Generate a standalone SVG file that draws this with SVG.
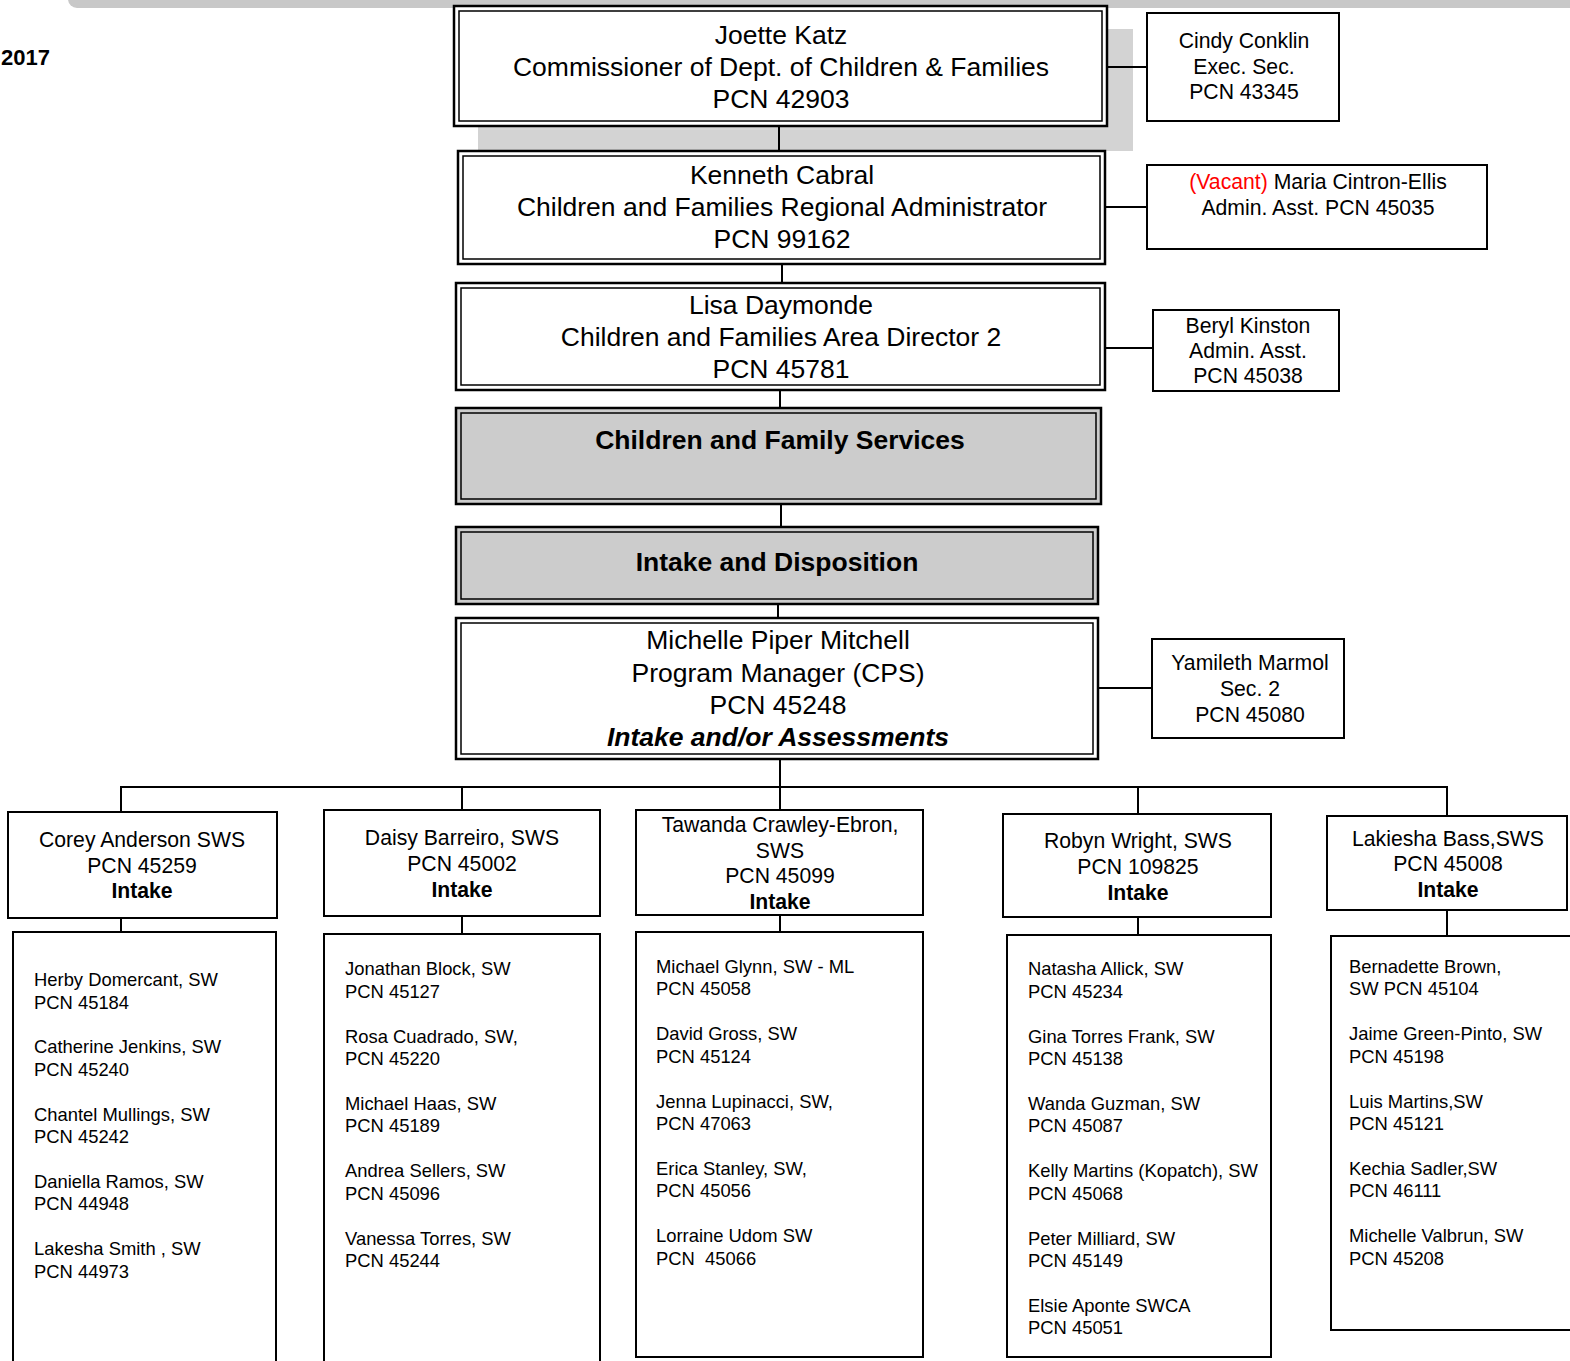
<svg xmlns="http://www.w3.org/2000/svg" width="1570" height="1361" viewBox="0 0 1570 1361">
<style>
.bg{fill:#fff}
.dblo{fill:#fff;stroke:#000;stroke-width:2.5}
.dbli{fill:none;stroke:#000;stroke-width:1.5}
.grayo{fill:#cccccc;stroke:#000;stroke-width:2.5}
.grayi{fill:none;stroke:#000;stroke-width:1.5}
.box{fill:#fff;stroke:#000;stroke-width:2}
.shadow{fill:#d3d3d3}
.conn line{stroke:#000;stroke-width:2}
text{font-family:"Liberation Sans",Arial,sans-serif;fill:#000}
.t26{font-size:26.5px;text-anchor:middle}
.t21{font-size:21.2px;text-anchor:middle}
.t18{font-size:18.4px}
.b{font-weight:bold}
.bi{font-weight:bold;font-style:italic}
</style>
<rect class="bg" x="0" y="0" width="1570" height="1361"/>
<rect x="68" y="-20" width="1530" height="28" rx="9" fill="#c8c8c8"/>
<text x="50" y="65" font-size="22" font-weight="bold" text-anchor="end">2017</text>
<rect class="shadow" x="478" y="29" width="655" height="122"/>

<g id="connectors" class="conn">
<line x1="779" y1="126" x2="779" y2="151"/>
<line x1="1107" y1="67" x2="1147" y2="67"/>
<line x1="782" y1="264" x2="782" y2="283"/>
<line x1="1105" y1="207" x2="1147" y2="207"/>
<line x1="780" y1="390" x2="780" y2="408"/>
<line x1="1105" y1="348" x2="1153" y2="348"/>
<line x1="781" y1="504" x2="781" y2="527"/>
<line x1="778" y1="604" x2="778" y2="618"/>
<line x1="1098" y1="688" x2="1152" y2="688"/>
<line x1="780" y1="759" x2="780" y2="787"/>
<line x1="120" y1="787" x2="1448" y2="787"/>
<line x1="121" y1="787" x2="121" y2="812"/>
<line x1="462" y1="787" x2="462" y2="810"/>
<line x1="780" y1="787" x2="780" y2="810"/>
<line x1="1138" y1="787" x2="1138" y2="814"/>
<line x1="1447" y1="787" x2="1447" y2="816"/>
<line x1="121" y1="918" x2="121" y2="932"/>
<line x1="462" y1="916" x2="462" y2="934"/>
<line x1="780" y1="915" x2="780" y2="932"/>
<line x1="1138" y1="917" x2="1138" y2="935"/>
<line x1="1447" y1="910" x2="1447" y2="936"/>
</g>

<g id="joette">
<rect class="dblo" x="454" y="6" width="653" height="120"/>
<rect class="dbli" x="459" y="11" width="643" height="110"/>
<text class="t26" x="781" y="44">Joette Katz</text>
<text class="t26" x="781" y="76">Commissioner of Dept. of Children &amp; Families</text>
<text class="t26" x="781" y="108">PCN 42903</text>
</g>
<g id="cindy">
<rect class="box" x="1147" y="13" width="192" height="108"/>
<text class="t21" x="1244" y="48">Cindy Conklin</text>
<text class="t21" x="1244" y="74">Exec. Sec.</text>
<text class="t21" x="1244" y="99">PCN 43345</text>
</g>
<g id="kenneth">
<rect class="dblo" x="458" y="151" width="647" height="113"/>
<rect class="dbli" x="463" y="156" width="637" height="103"/>
<text class="t26" x="782" y="184">Kenneth Cabral</text>
<text class="t26" x="782" y="216">Children and Families Regional Administrator</text>
<text class="t26" x="782" y="248">PCN 99162</text>
</g>
<g id="vacant">
<rect class="box" x="1147" y="165" width="340" height="84"/>
<text class="t21" x="1318" y="189"><tspan fill="#ff0000">(Vacant)</tspan> Maria Cintron-Ellis</text>
<text class="t21" x="1318" y="215">Admin. Asst. PCN 45035</text>
</g>
<g id="lisa">
<rect class="dblo" x="456" y="283" width="649" height="107"/>
<rect class="dbli" x="461" y="288" width="639" height="97"/>
<text class="t26" x="781" y="314">Lisa Daymonde</text>
<text class="t26" x="781" y="346">Children and Families Area Director 2</text>
<text class="t26" x="781" y="378">PCN 45781</text>
</g>
<g id="beryl">
<rect class="box" x="1153" y="310" width="186" height="81"/>
<text class="t21" x="1248" y="333">Beryl Kinston</text>
<text class="t21" x="1248" y="358">Admin. Asst.</text>
<text class="t21" x="1248" y="383">PCN 45038</text>
</g>
<g id="cfs">
<rect class="grayo" x="456" y="408" width="645" height="96"/>
<rect class="grayi" x="461" y="413" width="635" height="86"/>
<text class="t26 b" x="780" y="449">Children and Family Services</text>
</g>
<g id="intake-disposition">
<rect class="grayo" x="456" y="527" width="642" height="77"/>
<rect class="grayi" x="461" y="532" width="632" height="67"/>
<text class="t26 b" x="777" y="571">Intake and Disposition</text>
</g>
<g id="michelle">
<rect class="dblo" x="456" y="618" width="642" height="141"/>
<rect class="dbli" x="461" y="623" width="632" height="131"/>
<text class="t26" x="778" y="649">Michelle Piper Mitchell</text>
<text class="t26" x="778" y="682">Program Manager (CPS)</text>
<text class="t26" x="778" y="714">PCN 45248</text>
<text class="t26 bi" x="778" y="746">Intake and/or Assessments</text>
</g>
<g id="yamileth">
<rect class="box" x="1152" y="639" width="192" height="99"/>
<text class="t21" x="1250" y="670">Yamileth Marmol</text>
<text class="t21" x="1250" y="696">Sec. 2</text>
<text class="t21" x="1250" y="722">PCN 45080</text>
</g>

<g id="corey">
<rect class="box" x="8" y="812" width="269" height="106"/>
<text class="t21" x="142" y="847">Corey Anderson SWS</text>
<text class="t21" x="142" y="873">PCN 45259</text>
<text class="t21 b" x="142" y="898">Intake</text>
</g>
<g id="daisy">
<rect class="box" x="324" y="810" width="276" height="106"/>
<text class="t21" x="462" y="845">Daisy Barreiro, SWS</text>
<text class="t21" x="462" y="871">PCN 45002</text>
<text class="t21 b" x="462" y="897">Intake</text>
</g>
<g id="tawanda">
<rect class="box" x="636" y="810" width="287" height="105"/>
<text class="t21" x="780" y="832">Tawanda Crawley-Ebron,</text>
<text class="t21" x="780" y="858">SWS</text>
<text class="t21" x="780" y="883">PCN 45099</text>
<text class="t21 b" x="780" y="909">Intake</text>
</g>
<g id="robyn">
<rect class="box" x="1003" y="814" width="268" height="103"/>
<text class="t21" x="1138" y="848">Robyn Wright, SWS</text>
<text class="t21" x="1138" y="874">PCN 109825</text>
<text class="t21 b" x="1138" y="900">Intake</text>
</g>
<g id="lakiesha">
<rect class="box" x="1327" y="816" width="240" height="94"/>
<text class="t21" x="1448" y="846">Lakiesha Bass,SWS</text>
<text class="t21" x="1448" y="871">PCN 45008</text>
<text class="t21 b" x="1448" y="897">Intake</text>
</g>

<g id="staff-corey">
<rect class="box" x="13" y="932" width="263" height="450"/>
<text class="t18" x="34" y="986">Herby Domercant, SW</text>
<text class="t18" x="34" y="1009">PCN 45184</text>
<text class="t18" x="34" y="1053">Catherine Jenkins, SW</text>
<text class="t18" x="34" y="1076">PCN 45240</text>
<text class="t18" x="34" y="1121">Chantel Mullings, SW</text>
<text class="t18" x="34" y="1143">PCN 45242</text>
<text class="t18" x="34" y="1188">Daniella Ramos, SW</text>
<text class="t18" x="34" y="1210">PCN 44948</text>
<text class="t18" x="34" y="1255">Lakesha Smith , SW</text>
<text class="t18" x="34" y="1278">PCN 44973</text>
</g>
<g id="staff-daisy">
<rect class="box" x="324" y="934" width="276" height="450"/>
<text class="t18" x="345" y="975">Jonathan Block, SW</text>
<text class="t18" x="345" y="998">PCN 45127</text>
<text class="t18" x="345" y="1043">Rosa Cuadrado, SW,</text>
<text class="t18" x="345" y="1065">PCN 45220</text>
<text class="t18" x="345" y="1110">Michael Haas, SW</text>
<text class="t18" x="345" y="1132">PCN 45189</text>
<text class="t18" x="345" y="1177">Andrea Sellers, SW</text>
<text class="t18" x="345" y="1200">PCN 45096</text>
<text class="t18" x="345" y="1245">Vanessa Torres, SW</text>
<text class="t18" x="345" y="1267">PCN 45244</text>
</g>
<g id="staff-tawanda">
<rect class="box" x="636" y="932" width="287" height="425"/>
<text class="t18" x="656" y="973">Michael Glynn, SW - ML</text>
<text class="t18" x="656" y="995">PCN 45058</text>
<text class="t18" x="656" y="1040">David Gross, SW</text>
<text class="t18" x="656" y="1063">PCN 45124</text>
<text class="t18" x="656" y="1108">Jenna Lupinacci, SW,</text>
<text class="t18" x="656" y="1130">PCN 47063</text>
<text class="t18" x="656" y="1175">Erica Stanley, SW,</text>
<text class="t18" x="656" y="1197">PCN 45056</text>
<text class="t18" x="656" y="1242">Lorraine Udom SW</text>
<text class="t18" x="656" y="1265" xml:space="preserve">PCN  45066</text>
</g>
<g id="staff-robyn">
<rect class="box" x="1007" y="935" width="264" height="422"/>
<text class="t18" x="1028" y="975">Natasha Allick, SW</text>
<text class="t18" x="1028" y="998">PCN 45234</text>
<text class="t18" x="1028" y="1043">Gina Torres Frank, SW</text>
<text class="t18" x="1028" y="1065">PCN 45138</text>
<text class="t18" x="1028" y="1110">Wanda Guzman, SW</text>
<text class="t18" x="1028" y="1132">PCN 45087</text>
<text class="t18" x="1028" y="1177">Kelly Martins (Kopatch), SW</text>
<text class="t18" x="1028" y="1200">PCN 45068</text>
<text class="t18" x="1028" y="1245">Peter Milliard, SW</text>
<text class="t18" x="1028" y="1267">PCN 45149</text>
<text class="t18" x="1028" y="1312">Elsie Aponte SWCA</text>
<text class="t18" x="1028" y="1334">PCN 45051</text>
</g>
<g id="staff-lakiesha">
<rect class="box" x="1331" y="936" width="260" height="394"/>
<text class="t18" x="1349" y="973">Bernadette Brown,</text>
<text class="t18" x="1349" y="995">SW PCN 45104</text>
<text class="t18" x="1349" y="1040">Jaime Green-Pinto, SW</text>
<text class="t18" x="1349" y="1063">PCN 45198</text>
<text class="t18" x="1349" y="1108">Luis Martins,SW</text>
<text class="t18" x="1349" y="1130">PCN 45121</text>
<text class="t18" x="1349" y="1175">Kechia Sadler,SW</text>
<text class="t18" x="1349" y="1197">PCN 46111</text>
<text class="t18" x="1349" y="1242">Michelle Valbrun, SW</text>
<text class="t18" x="1349" y="1265">PCN 45208</text>
</g>
</svg>
